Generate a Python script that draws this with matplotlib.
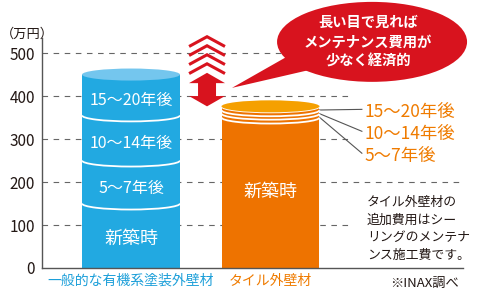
import numpy as np
import matplotlib
matplotlib.use('Agg')
import matplotlib.pyplot as plt
from matplotlib.patches import Rectangle, Ellipse, Arc, Polygon

plt.rcParams['font.family'] = ['Noto Sans CJK JP', 'DejaVu Sans']
plt.rcParams['lines.scale_dashes'] = False

# ---- data ----
categories = ['一般的な有機系塗装外壁材', 'タイル外壁材']
segment_labels = ['新築時', '5〜7年後', '10〜14年後', '15〜20年後']
organic_values = [150, 100, 105, 95]   # 万円 (cumulative 150, 250, 355, 450)
tile_values = [350, 9, 8, 9]           # 万円 (cumulative 350, 359, 367, 376)
yticks = [0, 100, 200, 300, 400, 500]
unit_label = '（万円）'
bubble_lines = ['長い目で見れば', 'メンテナンス費用が', '少なく経済的']
note_lines = ['タイル外壁材の', '追加費用はシー', 'リングのメンテナ', 'ンス施工費です。']
source_label = '※INAX調べ'

# ---- colours ----
BLUE = '#22a9e1'
BLUE_TOP = '#74c6ee'
BLUE_TXT = '#1c9fd9'
ORANGE = '#ee7300'
ORANGE_TOP = '#f5a000'
ORANGE_TXT = '#ef7b00'
RED = '#d8131e'
GRID = '#666666'
INK = '#231815'

fig = plt.figure(figsize=(4.8, 2.91), dpi=100)
PX, PY = 480, 291
ax = fig.add_axes([42 / PX, 23 / PY, 421 / PX, 230 / PY])
ax.set_ylim(0, 535)
x0, x1 = -89 / 139.5, 332 / 139.5
ax.set_xlim(x0, x1)

w = 0.7025     # bar width
eh = 14        # ellipse half-height (value units)

# gridlines
grid_short = 1.57
for t in yticks[1:]:
    xm = x1 if t == 200 else grid_short
    ax.plot([x0, xm], [t, t], color=GRID, lw=0.8, ls=(0, (4, 4)), zorder=0)


def cylinder(cx, values, body, topc, top_edge_line, z=2):
    cum = np.cumsum(values)
    ax.add_patch(Rectangle((cx - w / 2, 0), w, cum[-1], fc=body, ec='none', zorder=z))
    bounds = list(cum) if top_edge_line else list(cum[:-1])
    for b in bounds:
        ax.add_patch(Arc((cx, b), w, 2 * eh, theta1=180, theta2=360,
                         color='white', lw=1.3, zorder=z + 1))
    ax.add_patch(Ellipse((cx, cum[-1]), w, 2 * eh, fc=topc, ec='none', zorder=z + 2))
    return cum


blue_cum = cylinder(0, organic_values, BLUE, BLUE_TOP, False)
tile_cum = cylinder(1, tile_values, ORANGE, ORANGE_TOP, True)

# labels inside blue cylinder
lows = [0] + [c - eh for c in blue_cum[:-1]]
highs = [c - eh for c in blue_cum]
for lab, lo, hi in zip(segment_labels, lows, highs):
    fs = 13 if lab == '新築時' else 11.5
    ax.text(0, (lo + hi) / 2, lab, color='white', fontsize=fs,
            ha='center', va='center', zorder=6)

# tile: new-build label
ax.text(1, (tile_cum[0] - eh) / 2 + 8, segment_labels[0], color='white', fontsize=13,
        ha='center', va='center', zorder=6)

# tile: leader lines and labels for thin maintenance layers
lab_x = 1.677
line_end = 1.655
tile_lows = list(tile_cum[:-1])
tile_highs = list(tile_cum[1:])
for i, (lab, lo, hi) in enumerate(zip(segment_labels[1:], tile_lows, tile_highs)):
    ly = tile_cum[-1] - 13 - (2 - i) * 51
    ax.plot([1 + w / 2, line_end], [(lo + hi) / 2 - 4, ly + 6], color='#555555', lw=0.8,
            zorder=1, clip_on=False)
    ax.text(lab_x, ly, lab, color=ORANGE_TXT, fontsize=12.5, ha='left', va='center',
            zorder=6)

# note text
for i, line in enumerate(note_lines):
    ax.text(1.692, 153 - i * 41, line, color=INK, fontsize=9.3, ha='left', va='center')

# double arrow between totals
acx = 0.545
hw, sw, hh = 0.129, 0.0645, 24
tb, to = blue_cum[-1] + 4, tile_cum[-1]
arrow = Polygon([(acx, tb), (acx + hw, tb - hh), (acx + sw, tb - hh), (acx + sw, to + hh),
                 (acx + hw, to + hh), (acx, to), (acx - hw, to + hh), (acx - sw, to + hh),
                 (acx - sw, tb - hh), (acx - hw, tb - hh)], closed=True,
                fc=RED, ec='none', zorder=7)
ax.add_patch(arrow)
for k in range(1, 5):
    tip = tb + 21 * k
    ax.plot([acx - hw + 0.01, acx, acx + hw - 0.01], [tip - 21, tip, tip - 21],
            color=RED, lw=2.2, solid_joinstyle='miter', zorder=7, clip_on=False)

# speech bubble
bub = Ellipse((1.728, 526), 1.362, 186, fc=RED, ec='none', zorder=8, clip_on=False)
ax.add_patch(bub)
tail = Polygon([(0.724, 419), (1.12, 492), (1.27, 460)], closed=True, fc=RED,
               ec='none', zorder=8, clip_on=False)
ax.add_patch(tail)
for i, line in enumerate(bubble_lines):
    ax.text(1.70, 570 - i * 45.5, line, color='white', fontsize=10.3, fontweight='bold',
            ha='center', va='center', zorder=9)

# axes styling
for s in ['top', 'right']:
    ax.spines[s].set_visible(False)
for s in ['left', 'bottom']:
    ax.spines[s].set_color('#555555')
    ax.spines[s].set_linewidth(1.0)
ax.set_yticks(yticks)
ax.set_yticklabels([str(t) for t in yticks])
ax.tick_params(axis='y', length=0, pad=5, labelsize=11, labelcolor=INK)
ax.set_xticks([0, 1])
ax.set_xticklabels(categories)
ax.tick_params(axis='x', length=0, pad=4, labelsize=10)
for lbl, c in zip(ax.get_xticklabels(), [BLUE_TXT, ORANGE_TXT]):
    lbl.set_color(c)

fig.text(0.5 / PX, 1 - 34 / PY, unit_label, fontsize=9.5, color=INK, ha='left', va='center')
fig.text(459 / PX, 1 - 283 / PY, source_label, fontsize=9.5, color=INK, ha='right', va='center')

fig.savefig('out.png', dpi=100)
